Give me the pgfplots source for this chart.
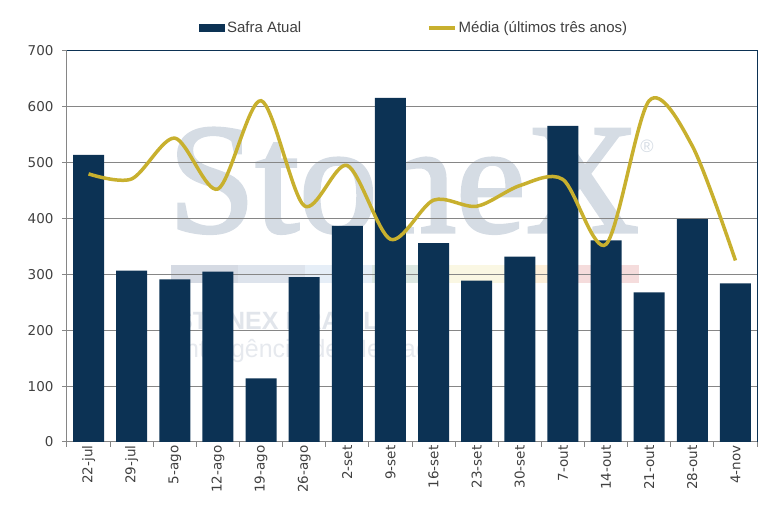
\documentclass[border=0pt]{standalone}
\usepackage{pgfplots}
\pgfplotsset{compat=1.18}
\usepackage{fontspec}
\setmainfont{DejaVu Sans}
\newfontfamily\legfont{Liberation Sans}
\newfontfamily\wmserif[FakeBold=2]{Liberation Serif}
\newfontfamily\wmsans{Liberation Sans}
\definecolor{navy}{HTML}{0C3254}
\definecolor{gold}{HTML}{C8B02E}
\definecolor{gridgray}{HTML}{868686}
\definecolor{wm}{HTML}{D5DCE4}
\definecolor{labgray}{HTML}{404040}
\definecolor{bA}{HTML}{D5DAE3}
\definecolor{bB}{HTML}{DDE3EC}
\definecolor{bC}{HTML}{E6EEF7}
\definecolor{bD}{HTML}{DDE8E2}
\definecolor{bE}{HTML}{FAF7E3}
\definecolor{bF}{HTML}{FDEFD9}
\definecolor{bG}{HTML}{F5DCDC}
\definecolor{wmA}{HTML}{E1E5EB}
\definecolor{wmB}{HTML}{E6E9EE}

\pgfplotstableread{
x bar avg
0 514 480
1 307 471
2 291 544
3 305 453
4 114 611
5 295 423
6 387 495
7 616 363
8 356 433
9 289 422
10 332 459
11 566 470
12 361 354
13 268 611
14 399 530
15 284 325
}\datatab

\begin{document}
\begin{tikzpicture}[x=1pt,y=1pt]
% watermark
\node[anchor=base west, inner sep=0, text=wm, font=\wmserif\fontsize{157}{157}\selectfont] at (168,287) {StoneX};
\node[anchor=center, inner sep=0, text=wm, font=\wmsans\fontsize{18}{18}\selectfont] at (647,373) {®};
\fill[bA] (171,236) rectangle (238,254);
\fill[bB] (238,236) rectangle (305,254);
\fill[bC] (305,236) rectangle (372,254);
\fill[bD] (372,236) rectangle (438,254);
\fill[bE] (438,236) rectangle (505,254);
\fill[bF] (505,236) rectangle (572,254);
\fill[bG] (572,236) rectangle (639,254);
\node[anchor=base west, inner sep=0, text=wmA, font=\wmsans\bfseries\fontsize{25}{25}\selectfont] at (176,189) {STONEX BRASIL};
\node[anchor=base west, inner sep=0, text=wmB, font=\wmsans\fontsize{25}{25}\selectfont] at (178,161) {Inteligência de Mercado};

\begin{axis}[
  at={(67pt,77pt)}, anchor=south west,
  width=690pt, height=391pt, scale only axis,
  xmin=-0.5, xmax=15.5, ymin=0, ymax=700,
  clip=false,
  axis x line*=bottom, axis y line*=left,
  axis line style={-, gridgray, line width=1pt},
  ytick={0,100,...,700},
  xtick={-0.5,0.5,...,15.5},
  xticklabels={},
  extra x ticks={0,...,15},
  extra x tick labels={22-jul,29-jul,5-ago,12-ago,19-ago,26-ago,2-set,9-set,16-set,23-set,30-set,7-out,14-out,21-out,28-out,4-nov},
  extra x tick style={major tick length=0pt, grid=none},
  tick align=outside,
  major tick length=5pt,
  tick style={gridgray, line width=1pt},
  ymajorgrids,
  grid style={gridgray, line width=1pt},
  /pgf/number format/assume math mode=true,
  yticklabel style={font=\fontsize{13.5}{14}\selectfont, text=labgray, xshift=-5pt},
  xticklabel style={font=\fontsize{13.5}{14}\selectfont, text=labgray, rotate=90, anchor=east},
  legend style={at={(0.503,1)}, anchor=center, yshift=23pt, draw=none, fill=none,
    font=\legfont\fontsize{15}{15}\selectfont, text=labgray,
    legend columns=2, /tikz/every even column/.append style={column sep=124pt}},
  legend cell align=left,
]
\addplot[ybar, bar width=31pt, fill=navy, draw=none,
  legend image code/.code={\fill[navy] (0pt,-4pt) rectangle (26pt,4pt);}]
  table[x=x, y=bar] {\datatab};
\addlegendentry{Safra Atual}
\addplot[smooth, gold, line width=3.5pt, no markers,
  legend image code/.code={\draw[gold, line width=3.5pt] (0pt,0pt) -- (26pt,0pt);}]
  table[x=x, y=avg] {\datatab};
\addlegendentry{Média (últimos três anos)}
\end{axis}
\draw[navy, line width=1pt] (67,468) -- (757,468) -- (757,77);
\pgfresetboundingbox
\useasboundingbox (0,0) rectangle (780,519);
\end{tikzpicture}
\end{document}
